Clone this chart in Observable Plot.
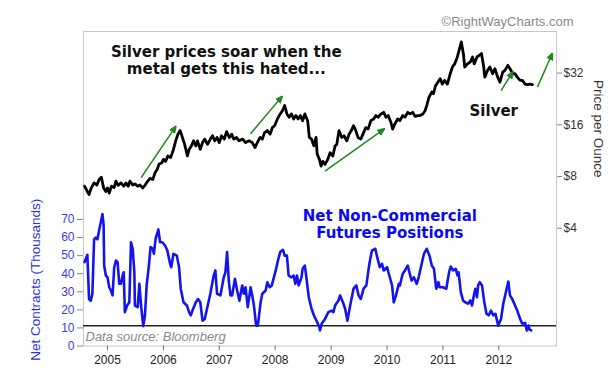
<!DOCTYPE html>
<html><head><meta charset="utf-8">
<script src="https://cdn.jsdelivr.net/npm/d3@7"></script>
<script src="https://cdn.jsdelivr.net/npm/@observablehq/plot@0.6"></script>
<style>body{margin:0;background:#fff;}</style>
</head><body><div id="chart"></div>
<script>
// ---- data (decimal years) ----
const netYears = [2004.59,2004.64,2004.67,2004.70,2004.73,2004.76,2004.79,2004.82,2004.85,2004.88,2004.91,2004.93,2004.94,2004.97,2005.00,2005.03,2005.06,2005.09,2005.12,2005.15,2005.18,2005.21,2005.24,2005.27,2005.29,2005.31,2005.35,2005.39,2005.42,2005.45,2005.48,2005.49,2005.54,2005.57,2005.60,2005.64,2005.67,2005.70,2005.74,2005.77,2005.81,2005.83,2005.86,2005.91,2005.94,2005.98,2006.03,2006.07,2006.12,2006.14,2006.18,2006.24,2006.28,2006.31,2006.36,2006.42,2006.46,2006.49,2006.52,2006.58,2006.62,2006.66,2006.70,2006.74,2006.78,2006.84,2006.90,2006.93,2006.96,2007.02,2007.08,2007.11,2007.14,2007.17,2007.20,2007.23,2007.28,2007.32,2007.36,2007.41,2007.44,2007.47,2007.51,2007.56,2007.59,2007.62,2007.66,2007.69,2007.74,2007.77,2007.83,2007.86,2007.90,2007.94,2008.01,2008.05,2008.09,2008.14,2008.17,2008.21,2008.24,2008.29,2008.33,2008.36,2008.39,2008.42,2008.47,2008.49,2008.53,2008.56,2008.60,2008.65,2008.69,2008.75,2008.79,2008.80,2008.83,2008.89,2008.95,2009.01,2009.04,2009.07,2009.13,2009.16,2009.21,2009.25,2009.29,2009.34,2009.40,2009.45,2009.49,2009.53,2009.58,2009.63,2009.67,2009.70,2009.73,2009.79,2009.83,2009.87,2009.91,2009.94,2010.00,2010.04,2010.09,2010.12,2010.16,2010.21,2010.23,2010.28,2010.32,2010.37,2010.40,2010.44,2010.48,2010.53,2010.56,2010.62,2010.66,2010.71,2010.76,2010.80,2010.84,2010.88,2010.92,2010.94,2011.00,2011.06,2011.11,2011.14,2011.18,2011.23,2011.26,2011.28,2011.32,2011.36,2011.40,2011.45,2011.49,2011.52,2011.56,2011.58,2011.61,2011.63,2011.66,2011.70,2011.74,2011.78,2011.82,2011.86,2011.90,2011.94,2011.99,2012.04,2012.08,2012.12,2012.17,2012.20,2012.24,2012.29,2012.33,2012.38,2012.42,2012.47,2012.50,2012.53,2012.55,2012.58];
const netContracts = [46.4,50.5,26,25,29,59,60,59,64,68.5,73,66.7,44.5,39,38,32.5,30.7,28,43.6,47.3,46.4,34.4,34.4,39,40.8,18.7,22.4,24.2,57.4,53.8,40.8,22.4,21.5,34.4,22.4,11,17,33.5,44.5,54.7,53.8,51,59.3,64.5,57.4,57.4,55.6,52.8,45.5,43.6,51,50,43.6,31.7,24.2,22.4,18.7,17,19.6,24.2,26,24.2,14,15,20.6,28.9,39,41.8,28.9,28,38,40.8,52,36.2,28,28,37.2,30.7,25,33.5,28.9,32.5,21.5,32.5,28,22.4,11.3,11.3,24.2,28.9,30.7,35.3,32.5,33.5,41.8,47.3,52,53.2,50,50,39,38,39,34.4,39,33.5,38,42.7,44.5,37.2,27,20.6,17,13.2,10.4,8.6,12.3,15,18.7,19.6,18.7,22.4,25.2,28,24.2,20.6,14,22.4,31.7,33.5,28,26,31.7,33.5,42.7,48.3,52.8,53.8,48.3,43.6,45.5,41.8,43.6,39,33.5,24.2,28,34.4,33.5,40,41.8,44.5,40.8,36.2,38,34.4,37.2,45.5,51,53.8,50,44.5,42.7,31.7,35.3,32.5,32.5,31.7,40.8,44,41.8,42.7,39,40.8,29.8,25.2,24.2,23.4,25.2,22.4,28.9,31.7,27,33.5,35.3,33.5,24.2,17.8,17,19.6,17,17.8,11.3,15,23.4,28.9,35.7,28,26,22.4,19.6,15,12.3,12.8,8.6,11.3,9.1,8.6];

const silverYears = [2004.59,2004.64,2004.67,2004.71,2004.76,2004.81,2004.85,2004.89,2004.93,2004.97,2005.00,2005.03,2005.07,2005.12,2005.15,2005.19,2005.24,2005.29,2005.33,2005.37,2005.40,2005.45,2005.49,2005.54,2005.58,2005.63,2005.67,2005.72,2005.76,2005.81,2005.85,2005.89,2005.92,2005.97,2006.00,2006.04,2006.08,2006.13,2006.18,2006.22,2006.26,2006.30,2006.34,2006.38,2006.43,2006.46,2006.50,2006.54,2006.58,2006.61,2006.66,2006.70,2006.74,2006.79,2006.84,2006.88,2006.92,2006.96,2007.00,2007.04,2007.09,2007.13,2007.18,2007.22,2007.26,2007.31,2007.35,2007.42,2007.47,2007.53,2007.59,2007.64,2007.68,2007.73,2007.77,2007.81,2007.86,2007.91,2007.95,2007.99,2008.04,2008.09,2008.13,2008.17,2008.21,2008.25,2008.29,2008.33,2008.37,2008.41,2008.45,2008.49,2008.53,2008.58,2008.61,2008.65,2008.69,2008.73,2008.75,2008.79,2008.82,2008.85,2008.89,2008.94,2008.98,2009.03,2009.07,2009.10,2009.14,2009.19,2009.23,2009.28,2009.32,2009.36,2009.40,2009.44,2009.48,2009.53,2009.58,2009.62,2009.66,2009.71,2009.76,2009.80,2009.84,2009.89,2009.94,2009.98,2010.02,2010.07,2010.10,2010.14,2010.19,2010.23,2010.28,2010.32,2010.37,2010.41,2010.46,2010.50,2010.55,2010.59,2010.64,2010.68,2010.71,2010.75,2010.80,2010.83,2010.87,2010.91,2010.95,2010.99,2011.03,2011.08,2011.13,2011.17,2011.21,2011.25,2011.29,2011.33,2011.37,2011.39,2011.44,2011.49,2011.53,2011.56,2011.61,2011.65,2011.69,2011.73,2011.75,2011.80,2011.84,2011.89,2011.93,2011.98,2012.02,2012.07,2012.11,2012.16,2012.20,2012.25,2012.29,2012.33,2012.38,2012.42,2012.47,2012.51,2012.56,2012.60];
const silverPrices = [7.02,6.54,6.27,6.86,7.34,7.13,7.68,7.92,6.86,6.54,6.86,6.4,7.02,6.9,7.52,7.1,7.34,7.02,7.34,7.02,7.52,7.13,7.24,7.02,7.13,6.86,7.1,7.52,7.8,7.68,8.4,8.8,9.41,9.6,10.06,9.8,10.53,10.3,11.5,12.9,14.1,14.8,13.5,12.3,10.53,11.5,12.05,12.9,12.05,12.9,11.5,12.6,13.2,12.3,13.2,13.8,12.9,13.5,12.6,13.8,13.2,14.6,13.5,14.1,13.2,13.5,12.9,13.2,12.6,12.9,12.6,11.8,12.6,13.5,13.2,14.4,14.8,14.1,15.4,15.8,17.3,18.5,19.3,20.7,18.5,17.7,18.5,17.3,18.1,17.3,18.1,16.9,18.5,16.9,13.5,13.2,12.05,13.5,10.8,10.06,9.2,9.8,9.4,10.06,11.0,10.53,12.05,12.3,14.8,13.5,13.8,12.9,14.1,14.8,15.8,14.8,13.5,13.2,14.4,15.4,15.1,16.9,17.3,18.1,17.7,18.5,18.9,17.7,18.1,16.5,15.1,16.2,17.3,16.9,18.1,17.7,18.9,18.5,18.9,17.9,18.1,18.1,18.5,19.3,20.7,23.1,24.8,24.3,27.1,28.3,29.7,27.6,29.0,27.6,31.7,34.7,36.2,38.9,43.5,48.6,40.6,34.7,36.2,37.1,39.7,36.2,39.7,40.6,41.6,34.7,30.3,33.2,34.7,31.7,33.9,30.3,28.3,32.4,33.2,35.5,33.9,31.7,31.7,30.3,29.0,29.0,27.6,27.4,27.6,27.4];

const leftTicks = [0,10,20,30,40,50,60,70];
const priceTicks = [4,8,16,32];
const yearTicks = [2005,2006,2007,2008,2009,2010,2011,2012];
const thresholdLevel = 11.2;

// green arrows: start/end (decimal year, price)
const arrowStartYears = [2005.60,2007.56,2008.89,2012.04,2012.69];
const arrowStartPrices = [7.86,14.2,8.6,25.3,26.5];
const arrowEndYears = [2006.20,2008.10,2009.92,2012.23,2012.94];
const arrowEndPrices = [15.3,22.9,14.9,31.7,40.6];

// ---- helpers ----
function fromDec(y){const yr=Math.floor(y);const s=Date.UTC(yr,0,1),e=Date.UTC(yr+1,0,1);return new Date(s+(y-yr)*(e-s));}
// right (log price) axis mapped onto the left scale: $4 -> 65.2, $32 -> 151.0
const pLo = 65.2, pHi = 151.0;
const pB = (pHi - pLo)/3, pA = pLo - 2*pB;
const priceToY = p => pA + pB*Math.log2(p);
const yToPrice = v => Math.pow(2,(v-pA)/pB);

const net = netYears.map((t,i)=>({date:fromDec(t), v:netContracts[i]}));
const silver = silverYears.map((t,i)=>({date:fromDec(t), p:silverPrices[i]}));
const arrows = arrowStartYears.map((t,i)=>({x1:fromDec(t), y1:priceToY(arrowStartPrices[i]), x2:fromDec(arrowEndYears[i]), y2:priceToY(arrowEndPrices[i])}));

const filledArrow = (color) => {
  const ns="http://www.w3.org/2000/svg";
  const m=document.createElementNS(ns,"marker");
  m.setAttribute("viewBox","-5 -5 10 10");
  m.setAttribute("markerWidth","5");
  m.setAttribute("markerHeight","5");
  m.setAttribute("refX","1");
  m.setAttribute("orient","auto");
  m.setAttribute("fill",color);
  const p=document.createElementNS(ns,"path");
  p.setAttribute("d","M-5,-4L5,0L-5,4Z");
  m.appendChild(p);
  return m;
};

const blue = "#1414f0";
const green = "#1e8a1e";

const chart = Plot.plot({
  width: 612, height: 387,
  marginLeft: 83, marginRight: 56, marginTop: 31, marginBottom: 41.5,
  style: {fontFamily: "'Liberation Sans', Arial, sans-serif", fontSize: "12px", background: "#fff"},
  x: {type: "utc", domain: [fromDec(2004.571), fromDec(2013.03)], axis: null},
  y: {domain: [0, 174], axis: null},
  marks: [
    Plot.frame({stroke: "#c8c8c8"}),
    Plot.ruleY([thresholdLevel], {stroke: "#222", strokeWidth: 1.5}),
    Plot.line(net, {x: "date", y: "v", stroke: blue, strokeWidth: 2.6}),
    Plot.line(silver, {x: "date", y: d => priceToY(d.p), stroke: "#000", strokeWidth: 2.8}),
    Plot.link(arrows, {x1: "x1", y1: "y1", x2: "x2", y2: "y2", stroke: green, strokeWidth: 1.5, markerEnd: filledArrow}),
    Plot.text(["Silver prices soar when the\nmetal gets this hated..."], {x: fromDec(2007.125), y: 158.3, text: d => d, fontFamily: "'DejaVu Sans', Verdana, sans-serif", fontWeight: "bold", fontSize: 15, lineHeight: 1.17, fill: "#111"}),
    Plot.text(["Silver"], {x: fromDec(2011.91), y: 129.9, text: d => d, fontFamily: "'DejaVu Sans', Verdana, sans-serif", fontWeight: "bold", fontSize: 15, fill: "#111"}),
    Plot.text(["Net Non-Commercial\nFutures Positions"], {x: fromDec(2010.05), y: 67.5, text: d => d, fontFamily: "'DejaVu Sans', Verdana, sans-serif", fontWeight: "bold", fontSize: 15, lineHeight: 1.15, fill: "#0a0af0"}),
    Plot.text(["Data source: Bloomberg"], {frameAnchor: "bottom-left", dx: 2, dy: -8.8, textAnchor: "start", lineAnchor: "middle", text: d => d, fontStyle: "italic", fontSize: 13, fill: "#8a8a8a"}),
    Plot.text(["©RightWayCharts.com"], {frameAnchor: "top-right", dx: 17, dy: -9.3, textAnchor: "end", lineAnchor: "middle", text: d => d, fontSize: 13, fill: "#8a8a8a"}),
    Plot.text(["Net Contracts (Thousands)"], {frameAnchor: "left", dx: -48, dy: 91, rotate: -90, textAnchor: "middle", lineAnchor: "middle", text: d => d, fontSize: 13.5, fill: "#3030f0"}),
    Plot.text(["Price per Ounce"], {frameAnchor: "right", dx: 42, dy: -60, rotate: 90, textAnchor: "middle", lineAnchor: "middle", text: d => d, fontSize: 13.5, fill: "#333"}),
    Plot.axisX({ticks: yearTicks.map(y => fromDec(y)), tickFormat: d => String(d.getUTCFullYear()), tickSize: 5, tickPadding: 4, fontSize: 12, fill: "#222", stroke: "#777", label: null}),
    Plot.axisY({anchor: "left", ticks: leftTicks, tickSize: 6, tickPadding: 3, fontSize: 12, fill: "#3a3af5", stroke: "#888", label: null}),
    Plot.axisY({anchor: "right", ticks: priceTicks.map(priceToY), tickFormat: d => "$" + Math.round(yToPrice(d)), tickSize: 5, tickPadding: 2, fontSize: 12, fill: "#333", stroke: "#888", label: null})
  ]
});
document.getElementById("chart").appendChild(chart);
</script>
</body></html>
